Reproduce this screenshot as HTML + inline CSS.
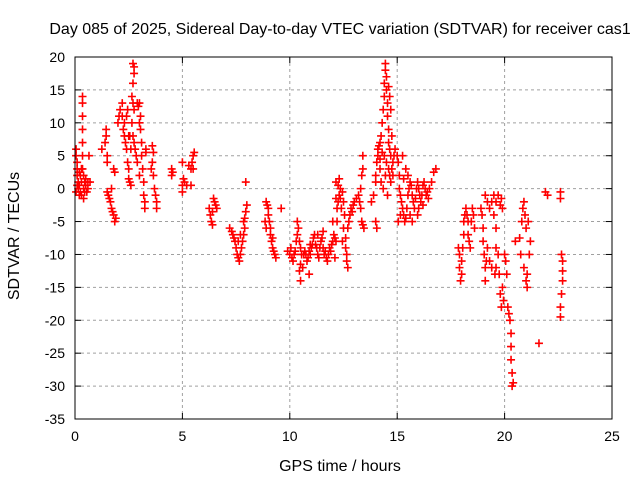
<!DOCTYPE html>
<html><head><meta charset="utf-8"><style>
body{margin:0;background:#fff;}
svg{display:block;font-family:"Liberation Sans",sans-serif;font-size:14px;}
.big{font-size:16px;}
</style></head><body>
<svg id="chart" width="640" height="480">
<text class="big" x="340" y="34" text-anchor="middle">Day 085 of 2025, Sidereal Day-to-day VTEC variation (SDTVAR) for receiver cas1</text>
<text class="big" transform="translate(19,236) rotate(-90)" text-anchor="middle">SDTVAR / TECUs</text>
<text class="big" x="340" y="471" text-anchor="middle">GPS time / hours</text>
<g id="grid"></g>
<g id="ticks"></g>
<g id="marks"></g>
<rect x="75" y="57" width="537" height="362" fill="none" stroke="#000" stroke-width="1"/>
</svg>
<script>
const xTicks=[0,5,10,15,20,25];
const yTicks=[20,15,10,5,0,-5,-10,-15,-20,-25,-30,-35];
const times=[0.05,0.05,0.1,0.1,0.1,0.15,0.15,0.2,0.2,0.25,0.25,0.3,0.3,0.35,0.35,0.35,0.35,0.35,0.35,0.35,0.4,0.4,0.45,0.45,0.5,0.5,0.55,0.6,0.6,0.65,0.7,0.05,0.1,0.2,0.3,0.4,
1.25,1.4,1.45,1.45,1.5,1.5,1.5,1.55,1.6,1.65,1.7,1.75,1.8,1.85,1.9,1.7,1.8,1.85,
2.0,2.05,2.1,2.2,2.2,2.25,2.3,2.35,2.4,2.45,2.5,2.5,2.55,2.6,2.3,2.4,2.45,2.5,
2.7,2.75,2.75,2.7,2.65,2.7,2.75,2.65,2.7,2.75,2.8,2.85,2.9,2.95,3.0,3.05,3.05,3.1,3.1,3.15,3.2,3.2,3.25,3.25,3.0,2.9,2.6,2.55,3.0,3.3,3.3,
3.6,3.65,3.6,3.65,3.7,3.75,3.8,3.8,3.55,4.5,4.5,4.55,
5.0,5.05,5.1,5.0,5.0,5.2,5.4,5.45,5.5,5.55,5.4,5.3,5.5,
6.25,6.3,6.35,6.4,6.4,6.45,6.5,6.55,6.6,
7.2,7.3,7.35,7.4,7.45,7.5,7.55,7.6,7.65,7.7,7.75,7.8,7.85,7.9,7.9,7.95,8.0,7.85,7.95,7.7,7.6,
8.9,8.95,9.0,9.0,9.05,9.1,9.1,9.15,9.2,9.25,9.3,9.35,8.85,8.9,9.2,9.6,
9.9,10.0,10.05,10.1,10.15,10.2,10.25,10.3,10.35,10.35,10.4,10.45,10.5,10.55,10.5,10.45,10.5,10.6,10.65,10.7,10.75,10.8,10.85,10.9,10.95,11.0,11.05,11.1,11.15,11.2,11.25,11.3,11.35,11.4,11.45,11.5,11.55,11.6,11.65,11.7,11.75,11.8,11.85,11.9,11.95,12.0,12.05,12.1,12.15,12.2,12.2,12.25,12.3,12.35,12.4,12.45,12.5,12.55,12.6,12.6,12.65,12.7,12.7,12.75,12.8,12.85,12.9,12.95,13.0,13.1,13.2,13.25,13.3,13.3,13.35,13.4,13.4,13.35,13.4,13.45,12.65,12.1,10.9,10.95,11.3,11.55,12.0,12.15,12.25,12.3,12.35,12.45,12.15,12.5,
13.8,13.9,14.0,14.0,14.05,14.1,14.1,14.15,14.2,14.25,14.3,14.35,14.4,14.4,14.45,14.45,14.5,14.5,14.55,14.55,14.6,14.6,14.65,14.7,14.6,14.65,14.7,14.75,14.8,14.8,14.5,14.4,14.3,14.2,14.25,14.35,14.45,14.6,14.65,14.7,14.75,14.85,14.9,14.55,14.0,14.05,14.2,
15.0,15.05,15.1,15.1,15.15,15.2,15.25,15.3,15.35,15.4,15.45,15.5,15.55,15.6,15.65,15.7,15.75,15.8,15.85,15.9,15.95,16.0,16.05,16.1,16.15,16.2,16.25,16.3,16.35,16.4,16.45,16.5,16.6,16.7,16.8,15.5,15.6,15.4,15.25,15.3,15.7,15.95,16.0,16.2,15.05,15.15,
17.85,17.9,17.9,17.95,18.0,18.0,18.05,18.1,18.1,18.15,18.2,18.25,18.3,18.35,18.4,18.45,18.5,18.55,18.6,18.3,
18.9,18.95,19.0,19.0,19.05,19.1,19.1,19.15,19.2,19.1,19.2,19.3,19.4,19.5,19.5,19.6,19.7,19.8,19.85,19.9,19.6,19.6,19.6,19.55,19.7,19.75,19.8,19.85,19.9,19.95,20.0,20.05,20.1,20.15,20.2,20.25,20.3,20.3,20.3,20.35,20.35,20.4,19.3,19.4,20.5,20.7,20.8,20.85,20.9,20.95,21.0,21.05,21.0,21.05,20.9,20.75,21.1,21.2,21.15,21.6,21.9,22.0,22.6,22.6,22.65,22.7,22.7,22.65,22.6,22.6,22.7];
const values=[6,5,4,3,2,1,0,-1,0.5,2,-0.5,1,-1,14,13,11,9,7,5,3,0,-1.5,1,-0.5,0.5,1.5,-0.5,1,0,5,1,-0.5,0.5,2.5,3,2,
6,7,9,8,5,4,-0.5,-1,-1.5,-2,-3,-3.5,-4,-5,-4.5,0,3,2.5,
10,11,12,13,11,9,8,7,6,4,3,1.5,1,0.5,10,11,12,8,
19,18.5,17.5,16,14,13,12,10,8,7,6,5,13,12.5,13,11,9,7,5,3,1,-1,-2,-3,2,4,6,8,10,6,5.5,
6.5,5.5,4,2,0,-1,-2,-3,3,3,2,2.5,
4,1.5,1,0.5,-0.5,0.5,3,4,5,5.5,0.5,3.5,3,
-3,-4,-5,-5.5,-3.5,-1.5,-2,-2.5,-3,
-6,-6.5,-7,-7.5,-8,-9,-10,-10.5,-11,-10,-9,-8,-7,-6,-4.5,-3.5,-2.5,-5,1,-7,-8,
-2,-2.5,-3,-4,-5,-6,-7,-8,-9,-9.5,-10,-10.5,-5,-6,-7.5,-3,
-9.5,-10,-9,-10.5,-11,-10,-9.5,-8,-7,-5,-6,-8,-9,-10,-11.5,-12.5,-14,-12,-10,-9.5,-10,-11,-10.5,-9.5,-10,-9,-8.5,-7.5,-7,-8.5,-9,-10,-10.5,-9,-8,-7.5,-9,-10,-9.5,-10.5,-11,-10,-9,-9.5,-8.5,-8,-7,-7.5,-8,-5,-3,-2,-1,-1.5,-3,-8,-6,-4,-7.5,-9,-11,-12,-6,-5,-4,-3,-3.5,-2.5,-2,-1.5,-1,-2,-3,0,2,3,5,-5,-5.5,-6,-10,-10.5,-13,-8.5,-7,-6.5,-5,1,0.5,1.5,0,-0.5,-1.5,-2,
-2,-1,1,2,4,6,5,6.5,7,8,10,12,14,16,18,19,17,15,13,11,9,7,6,5,3,2,1,3,4,2,4,5,5.5,3,1,0,2,15.5,14,12,8,5,6,-1,-5,-6,4.5,
5,4,2,0,-1,-2,-3,-4,-5,-4.5,-3,-1,0,1,0.5,-1,-2,-3,-1.5,0,1,0,-1,-2,-1,0.5,1,0,-1,-0.5,-1.5,0,1,2.5,3,2,-4,3,5,1.5,-5,-4,-3,-2.5,-5,-4,
-9,-10,-12,-14,-13,-11,-9,-7,-5,-4,-3,-4,-5,-8,-9,-5,-3,-4,-6,-7,
-3,-4,-6,-8,-10,-12,-14,-11,-9,-1,-2,-3,-2,-4,-1,-2,-1,-2.5,-1.5,-3,-6,-9,-12,-13,-10,-13,-16,-18,-15,-17,-10,-11,-13,-18,-19,-20,-22,-24,-26,-28,-30,-29.5,-11,-12,-8,-7.5,-5,-3,-2,-4,-6,-13,-14,-15,-12,-10,-5,-8,-10,-23.5,-0.5,-1,-0.5,-1.5,-10,-11,-14,-16,-18,-19.5,-12.5];
const X0=75,X1=612,Y0=419,Y1=57;
function xs(t){return X0+(t-0)/(25-0)*(X1-X0);}
function ys(v){return Y0-(v-(-35))/(20-(-35))*(Y0-Y1);}
const NS='http://www.w3.org/2000/svg';
const grid=document.getElementById('grid'),ticks=document.getElementById('ticks'),marks=document.getElementById('marks');
function mk(tag,attrs,parent){const e=document.createElementNS(NS,tag);for(const k in attrs)e.setAttribute(k,attrs[k]);parent.appendChild(e);return e;}
xTicks.forEach(t=>{const x=xs(t);
 if(t>0&&t<25){const g=mk('line',{x1:x,x2:x,y1:Y1,y2:Y0,stroke:'#a0a0a0','stroke-dasharray':'3,3'},grid);
 
 }
 mk('line',{x1:x,x2:x,y1:Y0,y2:Y0-6,stroke:'#000'},ticks);mk('line',{x1:x,x2:x,y1:Y1,y2:Y1+6,stroke:'#000'},ticks);
 const l=mk('text',{x:x,y:Y0+22,'text-anchor':'middle'},ticks);l.textContent=t;
 
 });
yTicks.forEach(v=>{const y=ys(v);
 if(v<20&&v>-35){const g=mk('line',{x1:X0,x2:X1,y1:y,y2:y,stroke:'#a0a0a0','stroke-dasharray':'3,3'},grid);
 
 }
 mk('line',{x1:X0,x2:X0+6,y1:y,y2:y,stroke:'#000'},ticks);mk('line',{x1:X1,x2:X1-6,y1:y,y2:y,stroke:'#000'},ticks);
 const l=mk('text',{x:X0-10,y:y+5,'text-anchor':'end'},ticks);l.textContent=v;
 
 });
const n=Math.min(times.length,values.length);
for(let i=0;i<n;i++){const x=xs(times[i]),y=ys(values[i]);
 const p=mk('path',{d:`M${x-4},${y}H${x+4}M${x},${y-4}V${y+4}`,stroke:'#ff0000','stroke-width':1.6,fill:'none'},marks);
 
 }
</script>
</body></html>
